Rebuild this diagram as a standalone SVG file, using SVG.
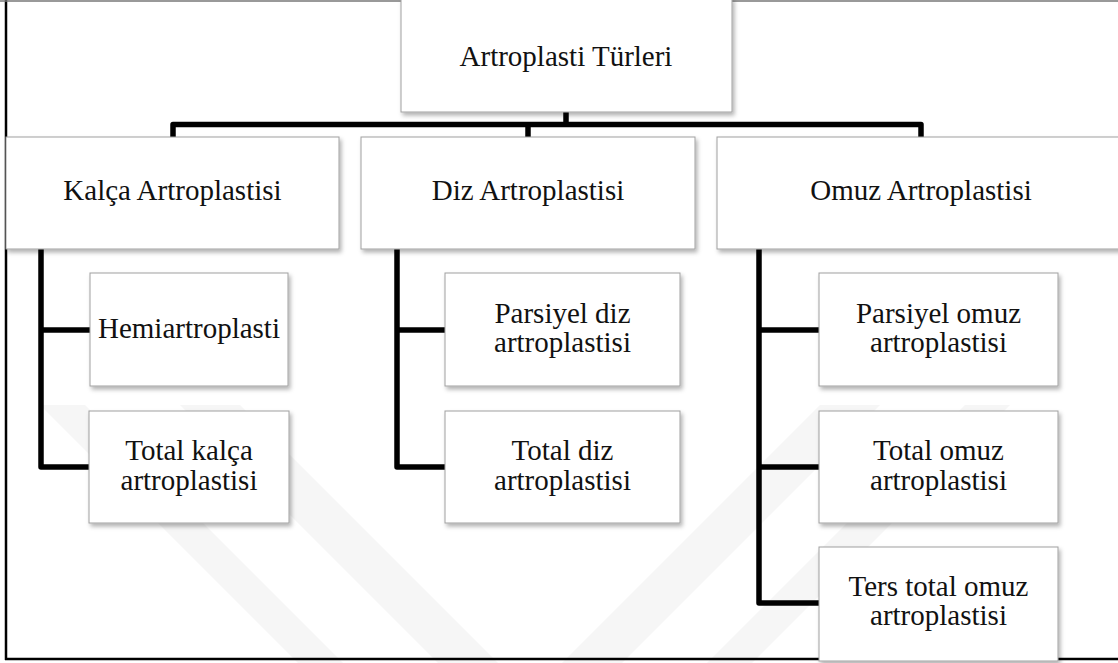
<svg xmlns="http://www.w3.org/2000/svg" width="1118" height="663" viewBox="0 0 1118 663">
<style>
.box{fill:#ffffff;stroke:#a0a0a0;stroke-width:1;filter:url(#sh)}
.t{font-family:"Liberation Serif","Times New Roman",serif;font-size:29px;fill:#111;text-anchor:middle}
.c{fill:none;stroke:#000;stroke-width:5.5;stroke-linejoin:round;stroke-linecap:butt}
.wm{fill:#f6f6f6}
</style>
<defs>
<filter id="sh" x="-10%" y="-10%" width="125%" height="130%">
<feDropShadow dx="2" dy="3" stdDeviation="2" flood-color="#000" flood-opacity="0.3"/>
</filter>
</defs>
<rect x="0" y="0" width="1118" height="663" fill="#fff"/>
<g id="watermark">
<polygon class="wm" points="40,405 85,405 343,663 298,663"/>
<polygon class="wm" points="180,405 240,405 498,663 438,663"/>
<polygon class="wm" points="1010,405 965,405 707,663 752,663"/>
<polygon class="wm" points="880,405 820,405 562,663 622,663"/>
</g>
<g id="frame">
<line x1="6" y1="0" x2="6" y2="660" stroke="#000" stroke-width="2.5"/>
<line x1="0" y1="1" x2="1118" y2="1" stroke="#777" stroke-width="1.5"/>
<line x1="5" y1="659" x2="1118" y2="659" stroke="#000" stroke-width="2.5"/>
</g>
<g id="connectors">
<path class="c" d="M566,112 V124.5"/>
<path class="c" d="M173,137 V124.5 H921 V137"/>
<path class="c" d="M528,124.5 V137"/>
<path class="c" d="M41,249 V467 H89"/>
<path class="c" d="M41,330 H90"/>
<path class="c" d="M397,249 V467 H445"/>
<path class="c" d="M397,330 H445"/>
<path class="c" d="M759,249 V603 H819"/>
<path class="c" d="M759,330 H819"/>
<path class="c" d="M759,467 H819"/>
</g>
<g id="root">
<rect class="box" x="401" y="-2" width="331" height="114"/>
<text class="t" x="566" y="65.5">Artroplasti Türleri</text>
</g>
<g id="kalca">
<rect class="box" x="6" y="137" width="333" height="112"/>
<text class="t" x="172.5" y="200">Kalça Artroplastisi</text>
</g>
<g id="diz">
<rect class="box" x="361" y="137" width="334" height="112"/>
<text class="t" x="528" y="200">Diz Artroplastisi</text>
</g>
<g id="omuz">
<rect class="box" x="717" y="137" width="410" height="112"/>
<text class="t" x="921" y="200">Omuz Artroplastisi</text>
</g>
<g id="hemi">
<rect class="box" x="90" y="273" width="198" height="113"/>
<text class="t" x="189" y="338">Hemiartroplasti</text>
</g>
<g id="total-kalca">
<rect class="box" x="89" y="411" width="200" height="112"/>
<text class="t" x="189" y="460">Total kalça</text>
<text class="t" x="189" y="489.5">artroplastisi</text>
</g>
<g id="parsiyel-diz">
<rect class="box" x="445" y="273" width="235" height="113"/>
<text class="t" x="562.5" y="323">Parsiyel diz</text>
<text class="t" x="562.5" y="352">artroplastisi</text>
</g>
<g id="total-diz">
<rect class="box" x="445" y="411" width="235" height="112"/>
<text class="t" x="562.5" y="460">Total diz</text>
<text class="t" x="562.5" y="489.5">artroplastisi</text>
</g>
<g id="parsiyel-omuz">
<rect class="box" x="819" y="273" width="239" height="113"/>
<text class="t" x="938.5" y="323">Parsiyel omuz</text>
<text class="t" x="938.5" y="352">artroplastisi</text>
</g>
<g id="total-omuz">
<rect class="box" x="819" y="411" width="239" height="112"/>
<text class="t" x="938.5" y="460">Total omuz</text>
<text class="t" x="938.5" y="489.5">artroplastisi</text>
</g>
<g id="ters-total-omuz">
<rect class="box" x="819" y="547" width="239" height="114"/>
<text class="t" x="938.5" y="596">Ters total omuz</text>
<text class="t" x="938.5" y="625">artroplastisi</text>
</g>
</svg>
